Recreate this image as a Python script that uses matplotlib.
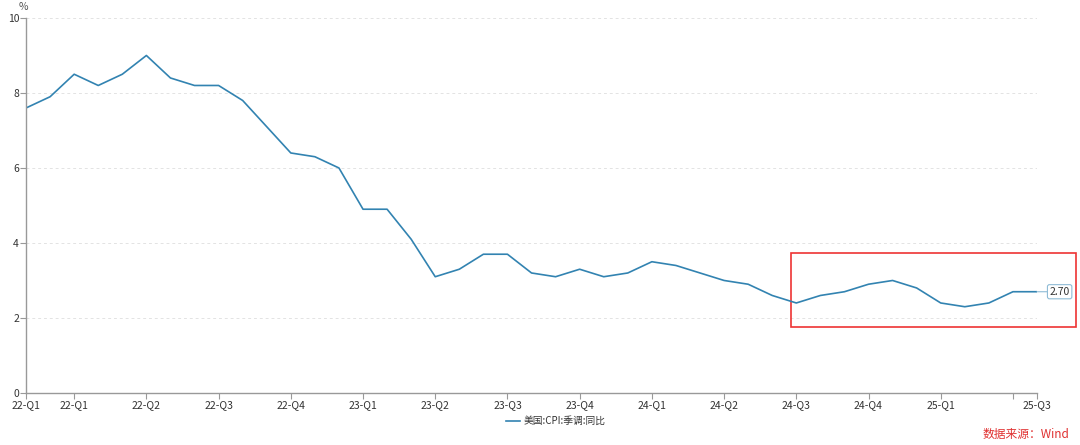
import matplotlib
matplotlib.use("Agg")
import matplotlib.pyplot as plt
from matplotlib.patches import Rectangle

plt.rcParams['font.family'] = ['Noto Sans CJK SC', 'DejaVu Sans']

# 美国CPI季调同比, 2022-01 至 2025-07 (月度)
cpi_yoy = [7.6, 7.9, 8.5, 8.2, 8.5, 9.0, 8.4, 8.2, 8.2, 7.8, 7.1, 6.4,
           6.3, 6.0, 4.9, 4.9, 4.1, 3.1, 3.3, 3.7, 3.7, 3.2, 3.1, 3.3,
           3.1, 3.2, 3.5, 3.4, 3.2, 3.0, 2.9, 2.6, 2.4, 2.6, 2.7, 2.9,
           3.0, 2.8, 2.4, 2.3, 2.4, 2.7, 2.7]
tick_pos = [0, 2, 5, 8, 11, 14, 17, 20, 23, 26, 29, 32, 35, 38, 41, 42]
tick_labels = ['22-Q1', '22-Q1', '22-Q2', '22-Q3', '22-Q4', '23-Q1', '23-Q2', '23-Q3',
               '23-Q4', '24-Q1', '24-Q2', '24-Q3', '24-Q4', '25-Q1', '', '25-Q3']
series_name = "美国:CPI:季调:同比"
last_label = "2.70"

fig = plt.figure(figsize=(10.8, 4.45), dpi=100)
ax = fig.add_axes([0.0241, 0.1169, 0.9361, 0.8427])

x = list(range(len(cpi_yoy)))
line_color = '#3283b1'
ax.plot(x, cpi_yoy, color=line_color, linewidth=1.2, label=series_name)

ax.set_xlim(0, len(cpi_yoy) - 1)
ax.set_ylim(0, 10)
ax.set_yticks([0, 2, 4, 6, 8, 10])
ax.set_xticks(tick_pos)
ax.set_xticklabels(tick_labels)
ax.tick_params(axis='both', labelsize=7.5, colors='#999999', labelcolor='#333333',
               length=4, width=0.8, pad=1)

for yv in [2, 4, 6, 8, 10]:
    ax.axhline(yv, color='#e3e3e3', linestyle=(0, (3, 3)), linewidth=0.7, zorder=0)

for s in ['top', 'right']:
    ax.spines[s].set_visible(False)
for s in ['left', 'bottom']:
    ax.spines[s].set_color('#999999')
    ax.spines[s].set_linewidth(1.0)

ax.text(-0.1, 10.15, '%', fontsize=7.5, color='#555555', ha='center', va='bottom')

# 末值标签
ax.annotate(last_label, xy=(x[-1], cpi_yoy[-1]), xytext=(9, 0), textcoords='offset points',
            fontsize=7.5, color='#333333', va='center', ha='left',
            bbox=dict(boxstyle='round,pad=0.2', fc='white', ec='#8fbcd6', lw=0.8),
            arrowprops=dict(arrowstyle='-', color='#8fbcd6', lw=0.8, shrinkA=0, shrinkB=0),
            annotation_clip=False)

# 红框
rect = Rectangle((31.8, 1.76), 11.8, 1.97, fill=False, edgecolor='#ee3333',
                 linewidth=1.2, clip_on=False)
ax.add_patch(rect)

leg = fig.legend(loc='center', bbox_to_anchor=(0.515, 0.054), frameon=False,
                 fontsize=7, handlelength=1.4, handletextpad=0.4)
for t in leg.get_texts():
    t.set_color('#333333')

fig.text(0.99, 0.01, '数据来源：Wind', color='#e03030', fontsize=8.5, ha='right', va='bottom')

fig.savefig('out.png', dpi=100)
